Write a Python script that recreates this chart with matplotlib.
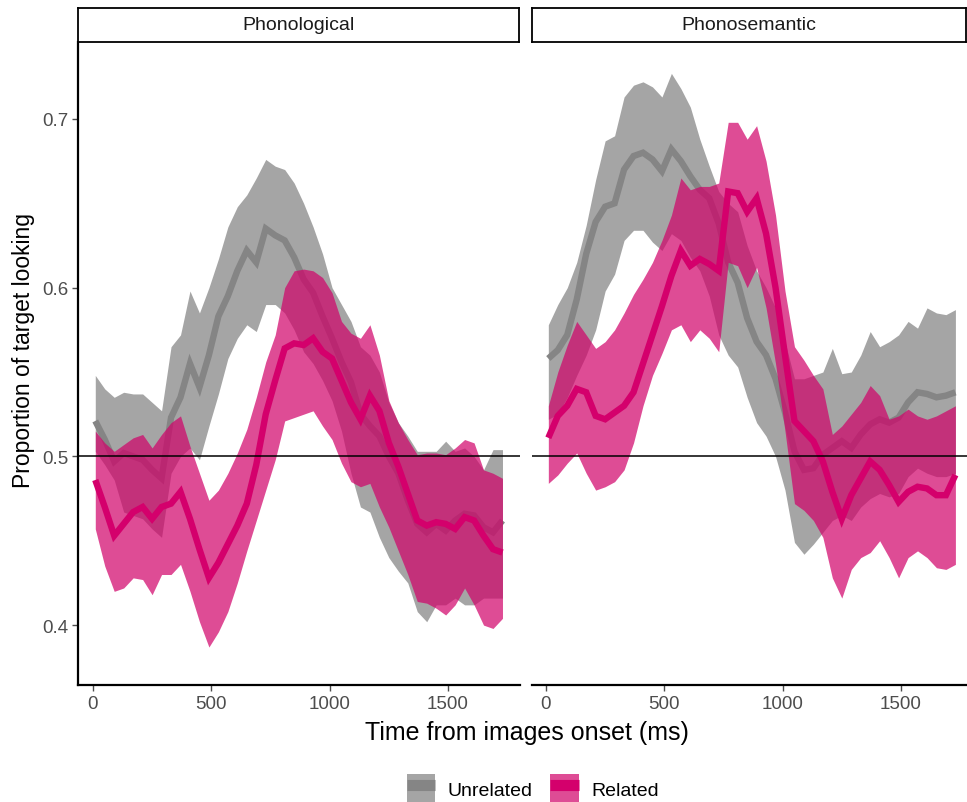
import matplotlib
matplotlib.use("Agg")
import matplotlib.pyplot as plt
from matplotlib.patches import Patch
from matplotlib.lines import Line2D
from matplotlib.legend_handler import HandlerTuple

plt.rcParams['font.family'] = ['Liberation Sans', 'DejaVu Sans']

# ---------------- data ----------------
time_ms = [10, 50, 90, 130, 170, 210, 250, 290, 330, 370, 410, 450, 490, 530, 570,
           610, 650, 690, 730, 770, 810, 850, 890, 930, 970, 1010, 1050, 1090, 1130,
           1170, 1210, 1250, 1290, 1330, 1370, 1410, 1450, 1490, 1530, 1570, 1610,
           1650, 1690, 1730]

panels = ["Phonological", "Phonosemantic"]
conditions = ["Unrelated", "Related"]

# Phonological - Unrelated
phon_unrel_mean = [0.521, 0.510, 0.497, 0.502, 0.500, 0.498, 0.492, 0.487, 0.523, 0.535, 0.555,
                   0.541, 0.560, 0.583, 0.595, 0.610, 0.622, 0.615, 0.635, 0.631, 0.628, 0.618,
                   0.605, 0.597, 0.583, 0.570, 0.556, 0.544, 0.525, 0.518, 0.512, 0.500, 0.490,
                   0.474, 0.460, 0.455, 0.460, 0.456, 0.462, 0.466, 0.465, 0.458, 0.455, 0.462]
phon_unrel_upper = [0.548, 0.540, 0.535, 0.538, 0.537, 0.537, 0.532, 0.527, 0.565, 0.572, 0.598,
                    0.585, 0.600, 0.617, 0.636, 0.648, 0.655, 0.665, 0.676, 0.672, 0.670, 0.662,
                    0.650, 0.636, 0.620, 0.600, 0.590, 0.580, 0.565, 0.560, 0.550, 0.532, 0.520,
                    0.512, 0.503, 0.503, 0.503, 0.509, 0.503, 0.505, 0.500, 0.492, 0.504, 0.504]
phon_unrel_lower = [0.503, 0.495, 0.486, 0.467, 0.465, 0.463, 0.457, 0.452, 0.490, 0.500, 0.505,
                    0.498, 0.518, 0.537, 0.558, 0.570, 0.578, 0.574, 0.590, 0.590, 0.585, 0.575,
                    0.562, 0.555, 0.545, 0.533, 0.515, 0.490, 0.470, 0.467, 0.452, 0.440, 0.432,
                    0.425, 0.408, 0.402, 0.412, 0.412, 0.416, 0.412, 0.412, 0.416, 0.416, 0.416]

# Phonological - Related
phon_rel_mean = [0.486, 0.470, 0.453, 0.460, 0.467, 0.470, 0.463, 0.470, 0.472, 0.479, 0.463,
                 0.445, 0.428, 0.437, 0.448, 0.459, 0.472, 0.495, 0.525, 0.545, 0.564, 0.567,
                 0.566, 0.570, 0.562, 0.558, 0.545, 0.532, 0.522, 0.536, 0.527, 0.508, 0.494,
                 0.478, 0.462, 0.459, 0.461, 0.460, 0.457, 0.464, 0.462, 0.453, 0.445, 0.443]
phon_rel_upper = [0.515, 0.508, 0.503, 0.507, 0.511, 0.513, 0.505, 0.513, 0.520, 0.524, 0.506,
                  0.490, 0.474, 0.480, 0.490, 0.502, 0.516, 0.535, 0.556, 0.572, 0.600, 0.610,
                  0.611, 0.610, 0.606, 0.597, 0.580, 0.573, 0.570, 0.578, 0.560, 0.533, 0.520,
                  0.510, 0.501, 0.502, 0.502, 0.501, 0.505, 0.510, 0.508, 0.492, 0.490, 0.487]
phon_rel_lower = [0.457, 0.435, 0.420, 0.422, 0.428, 0.427, 0.418, 0.430, 0.430, 0.436, 0.420,
                  0.402, 0.387, 0.396, 0.408, 0.425, 0.444, 0.462, 0.480, 0.498, 0.521, 0.523,
                  0.525, 0.527, 0.518, 0.510, 0.496, 0.485, 0.482, 0.484, 0.470, 0.458, 0.444,
                  0.430, 0.414, 0.413, 0.410, 0.406, 0.412, 0.422, 0.412, 0.400, 0.398, 0.404]

# Phonosemantic - Unrelated
psem_unrel_mean = [0.558, 0.563, 0.572, 0.593, 0.620, 0.639, 0.648, 0.650, 0.670, 0.678, 0.680,
                   0.676, 0.669, 0.682, 0.675, 0.666, 0.658, 0.653, 0.638, 0.615, 0.603, 0.582,
                   0.568, 0.560, 0.546, 0.526, 0.503, 0.492, 0.493, 0.501, 0.505, 0.509, 0.505,
                   0.513, 0.519, 0.522, 0.520, 0.523, 0.532, 0.538, 0.537, 0.535, 0.536, 0.538]
psem_unrel_upper = [0.578, 0.590, 0.600, 0.615, 0.637, 0.664, 0.687, 0.690, 0.713, 0.720, 0.722,
                    0.719, 0.713, 0.727, 0.718, 0.707, 0.688, 0.672, 0.657, 0.650, 0.645, 0.625,
                    0.610, 0.600, 0.588, 0.568, 0.546, 0.546, 0.548, 0.550, 0.564, 0.549, 0.550,
                    0.560, 0.574, 0.565, 0.568, 0.572, 0.580, 0.576, 0.588, 0.585, 0.584, 0.587]
psem_unrel_lower = [0.522, 0.525, 0.535, 0.548, 0.560, 0.575, 0.598, 0.608, 0.628, 0.634, 0.634,
                    0.627, 0.622, 0.632, 0.628, 0.618, 0.610, 0.595, 0.572, 0.560, 0.553, 0.535,
                    0.520, 0.512, 0.500, 0.480, 0.449, 0.442, 0.448, 0.455, 0.462, 0.465, 0.462,
                    0.470, 0.475, 0.478, 0.476, 0.478, 0.488, 0.493, 0.490, 0.488, 0.488, 0.490]

# Phonosemantic - Related
psem_rel_mean = [0.511, 0.524, 0.530, 0.540, 0.538, 0.524, 0.522, 0.526, 0.530, 0.538, 0.555,
                 0.572, 0.589, 0.607, 0.622, 0.613, 0.617, 0.614, 0.610, 0.657, 0.656, 0.645,
                 0.653, 0.632, 0.600, 0.560, 0.521, 0.515, 0.509, 0.497, 0.479, 0.463, 0.477,
                 0.487, 0.497, 0.492, 0.483, 0.473, 0.479, 0.482, 0.481, 0.477, 0.477, 0.489]
psem_rel_upper = [0.530, 0.550, 0.566, 0.580, 0.572, 0.564, 0.568, 0.575, 0.585, 0.596, 0.605,
                  0.615, 0.628, 0.643, 0.665, 0.658, 0.660, 0.660, 0.662, 0.698, 0.698, 0.688,
                  0.696, 0.675, 0.643, 0.598, 0.565, 0.557, 0.548, 0.540, 0.513, 0.518, 0.525,
                  0.532, 0.542, 0.536, 0.522, 0.524, 0.528, 0.524, 0.522, 0.524, 0.527, 0.530]
psem_rel_lower = [0.484, 0.489, 0.496, 0.502, 0.490, 0.480, 0.482, 0.485, 0.492, 0.508, 0.530,
                  0.548, 0.561, 0.575, 0.578, 0.568, 0.575, 0.570, 0.562, 0.615, 0.613, 0.600,
                  0.612, 0.588, 0.555, 0.515, 0.472, 0.468, 0.462, 0.452, 0.428, 0.416, 0.433,
                  0.440, 0.443, 0.450, 0.440, 0.428, 0.440, 0.444, 0.440, 0.434, 0.433, 0.436]

chance_level = 0.5
x_ticks = [0, 500, 1000, 1500]
y_ticks = [0.4, 0.5, 0.6, 0.7]

series = {
    "Phonological": {
        "Unrelated": (phon_unrel_mean, phon_unrel_lower, phon_unrel_upper),
        "Related": (phon_rel_mean, phon_rel_lower, phon_rel_upper),
    },
    "Phonosemantic": {
        "Unrelated": (psem_unrel_mean, psem_unrel_lower, psem_unrel_upper),
        "Related": (psem_rel_mean, psem_rel_lower, psem_rel_upper),
    },
}

# ---------------- style ----------------
fill_col = {"Unrelated": "#7f7f7f", "Related": "#D10069"}
line_col = {"Unrelated": "#858585", "Related": "#D4006C"}
fill_alpha = 0.7
lw = 4.6

W, H = 967, 803
fig = plt.figure(figsize=(W / 100, H / 100), dpi=100)

def px_axes(x0, y0, x1, y1):
    return fig.add_axes([x0 / W, 1 - y1 / H, (x1 - x0) / W, (y1 - y0) / H])

ylim = (0.3645, 0.7456)
axes_px = {"Phonological": (78, 43, 520, 686), "Phonosemantic": (532, 43, 967, 686)}
xlims = {"Phonological": (-63, 1804), "Phonosemantic": (-59, 1779)}

for i, p in enumerate(panels):
    x0, y0, x1, y1 = axes_px[p]
    ax = px_axes(x0, y0, x1, y1)
    z = 1.0
    for c in conditions:
        m, lo, hi = series[p][c]
        ax.fill_between(time_ms, lo, hi, color=fill_col[c], alpha=fill_alpha, lw=0,
                        zorder=z)
        ax.plot(time_ms, m, color=line_col[c], lw=lw, solid_joinstyle="miter",
                solid_capstyle="butt", zorder=z + 0.5)
        z += 1.0
    ax.axhline(chance_level, color="black", lw=1.1, zorder=6)
    ax.set_xlim(*xlims[p])
    ax.set_ylim(*ylim)
    ax.set_xticks(x_ticks)
    ax.set_xticklabels([str(t) for t in x_ticks])
    ax.tick_params(axis="both", labelsize=13.5, colors="#4D4D4D", length=4, width=1,
                   pad=3)
    for s in ["top", "right"]:
        ax.spines[s].set_visible(False)
    ax.spines["bottom"].set_linewidth(1.6)
    ax.spines["left"].set_linewidth(1.6)
    ax.spines["bottom"].set_zorder(7)
    ax.spines["left"].set_zorder(7)
    if i == 0:
        ax.set_yticks(y_ticks)
        ax.set_yticklabels([f"{v:.1f}" for v in y_ticks])
        ax.set_ylabel("Proportion of target looking", fontsize=16.5)
        ax.yaxis.set_label_coords(-0.097, 0.522)
    else:
        ax.spines["left"].set_visible(False)
        ax.set_yticks([])
    ax.patch.set_alpha(0)

    # strip
    sax = px_axes(x0, 9, x1 - 1, 43)
    sax.set_xticks([]); sax.set_yticks([])
    for s in sax.spines.values():
        s.set_linewidth(1.3)
        s.set_color("black")
    sax.text(0.5, 0.5, p, ha="center", va="center", fontsize=14, color="#1A1A1A",
             transform=sax.transAxes)

fig.text(527 / W, 1 - 733 / H, "Time from images onset (ms)", ha="center", va="center",
         fontsize=18)

handles = []
for c in conditions:
    patch = Patch(facecolor=fill_col[c], alpha=fill_alpha, edgecolor="none")
    line = Line2D([], [], color=line_col[c], lw=8, solid_capstyle="butt")
    handles.append((patch, line))
fig.legend(handles, conditions, loc="center", bbox_to_anchor=(533 / W, 1 - 790 / H),
           ncol=2, frameon=False, fontsize=14, handlelength=1.45, handleheight=2.0,
           handletextpad=0.65, columnspacing=0.9,
           handler_map={tuple: HandlerTuple(ndivide=1, pad=0)})

fig.savefig("out.png", dpi=100)
